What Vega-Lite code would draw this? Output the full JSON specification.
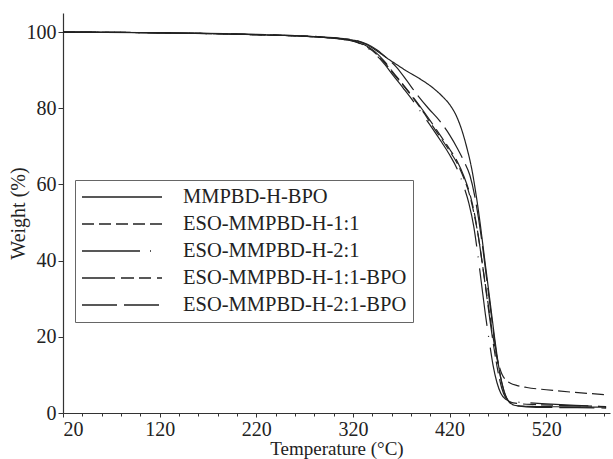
{
  "$schema": "https://vega.github.io/schema/vega-lite/v6.json",
  "width": 547,
  "height": 400,
  "autosize": {"type": "none"},
  "padding": {"left": 63, "top": 13, "right": 3, "bottom": 46},
  "background": "white",
  "config": {
    "view": {"stroke": null},
    "font": "Liberation Serif",
    "axis": {
      "labelFont": "Liberation Serif", "titleFont": "Liberation Serif",
      "labelFontSize": 20, "titleFontSize": 20, "titleFontWeight": "normal",
      "labelColor": "#222", "titleColor": "#222", "domainColor": "#333", "tickColor": "#333",
      "domainWidth": 1.2, "tickWidth": 1, "grid": false, "labelOverlap": false, "labelBound": false
    },
    "legend": {"labelFont": "Liberation Serif", "labelFontSize": 20.5, "labelColor": "#222", "labelLimit": 0}
  },
  "datasets": {
    "tga": [
      {"s":"MMPBD-H-BPO","t":20,"w":100},{"s":"MMPBD-H-BPO","t":60,"w":99.95},{"s":"MMPBD-H-BPO","t":120,"w":99.8},{"s":"MMPBD-H-BPO","t":170,"w":99.6},{"s":"MMPBD-H-BPO","t":220,"w":99.3},{"s":"MMPBD-H-BPO","t":260,"w":99},{"s":"MMPBD-H-BPO","t":290,"w":98.6},{"s":"MMPBD-H-BPO","t":310,"w":98.2},{"s":"MMPBD-H-BPO","t":325,"w":97.6},{"s":"MMPBD-H-BPO","t":335,"w":96.6},{"s":"MMPBD-H-BPO","t":345,"w":95},{"s":"MMPBD-H-BPO","t":355,"w":93.2},{"s":"MMPBD-H-BPO","t":365,"w":91.5},{"s":"MMPBD-H-BPO","t":376,"w":89.7},{"s":"MMPBD-H-BPO","t":390,"w":87.6},{"s":"MMPBD-H-BPO","t":403,"w":85.3},{"s":"MMPBD-H-BPO","t":413,"w":83},{"s":"MMPBD-H-BPO","t":420,"w":81},{"s":"MMPBD-H-BPO","t":427,"w":78},{"s":"MMPBD-H-BPO","t":433,"w":74},{"s":"MMPBD-H-BPO","t":438,"w":69.5},{"s":"MMPBD-H-BPO","t":443,"w":64},{"s":"MMPBD-H-BPO","t":447,"w":58},{"s":"MMPBD-H-BPO","t":451,"w":51},{"s":"MMPBD-H-BPO","t":455,"w":43},{"s":"MMPBD-H-BPO","t":459,"w":35},{"s":"MMPBD-H-BPO","t":463,"w":27},{"s":"MMPBD-H-BPO","t":467,"w":19},{"s":"MMPBD-H-BPO","t":471,"w":12},{"s":"MMPBD-H-BPO","t":475,"w":7},{"s":"MMPBD-H-BPO","t":479,"w":4},{"s":"MMPBD-H-BPO","t":484,"w":2.4},{"s":"MMPBD-H-BPO","t":490,"w":1.9},{"s":"MMPBD-H-BPO","t":510,"w":1.7},{"s":"MMPBD-H-BPO","t":550,"w":1.6},{"s":"MMPBD-H-BPO","t":582,"w":1.5},

      {"s":"ESO-MMPBD-H-1:1","t":20,"w":100},{"s":"ESO-MMPBD-H-1:1","t":120,"w":99.8},{"s":"ESO-MMPBD-H-1:1","t":220,"w":99.3},{"s":"ESO-MMPBD-H-1:1","t":260,"w":99},{"s":"ESO-MMPBD-H-1:1","t":290,"w":98.6},{"s":"ESO-MMPBD-H-1:1","t":310,"w":98.1},{"s":"ESO-MMPBD-H-1:1","t":325,"w":97.3},{"s":"ESO-MMPBD-H-1:1","t":335,"w":96},{"s":"ESO-MMPBD-H-1:1","t":343,"w":94.5},{"s":"ESO-MMPBD-H-1:1","t":352,"w":92.2},{"s":"ESO-MMPBD-H-1:1","t":362,"w":89},{"s":"ESO-MMPBD-H-1:1","t":372,"w":86},{"s":"ESO-MMPBD-H-1:1","t":382,"w":82.8},{"s":"ESO-MMPBD-H-1:1","t":392,"w":79.3},{"s":"ESO-MMPBD-H-1:1","t":402,"w":75.5},{"s":"ESO-MMPBD-H-1:1","t":412,"w":71.8},{"s":"ESO-MMPBD-H-1:1","t":420,"w":68.8},{"s":"ESO-MMPBD-H-1:1","t":428,"w":65.5},{"s":"ESO-MMPBD-H-1:1","t":435,"w":61.5},{"s":"ESO-MMPBD-H-1:1","t":441,"w":57},{"s":"ESO-MMPBD-H-1:1","t":446,"w":51.5},{"s":"ESO-MMPBD-H-1:1","t":450,"w":46},{"s":"ESO-MMPBD-H-1:1","t":454,"w":39},{"s":"ESO-MMPBD-H-1:1","t":458,"w":32},{"s":"ESO-MMPBD-H-1:1","t":462,"w":25},{"s":"ESO-MMPBD-H-1:1","t":466,"w":18.5},{"s":"ESO-MMPBD-H-1:1","t":470,"w":13.5},{"s":"ESO-MMPBD-H-1:1","t":474,"w":10.3},{"s":"ESO-MMPBD-H-1:1","t":478,"w":8.7},{"s":"ESO-MMPBD-H-1:1","t":483,"w":7.8},{"s":"ESO-MMPBD-H-1:1","t":490,"w":7.2},{"s":"ESO-MMPBD-H-1:1","t":500,"w":6.7},{"s":"ESO-MMPBD-H-1:1","t":520,"w":6.1},{"s":"ESO-MMPBD-H-1:1","t":550,"w":5.4},{"s":"ESO-MMPBD-H-1:1","t":582,"w":4.8},

      {"s":"ESO-MMPBD-H-2:1","t":20,"w":100},{"s":"ESO-MMPBD-H-2:1","t":120,"w":99.8},{"s":"ESO-MMPBD-H-2:1","t":220,"w":99.3},{"s":"ESO-MMPBD-H-2:1","t":260,"w":99},{"s":"ESO-MMPBD-H-2:1","t":290,"w":98.6},{"s":"ESO-MMPBD-H-2:1","t":310,"w":98.1},{"s":"ESO-MMPBD-H-2:1","t":325,"w":97.2},{"s":"ESO-MMPBD-H-2:1","t":335,"w":95.8},{"s":"ESO-MMPBD-H-2:1","t":343,"w":94.2},{"s":"ESO-MMPBD-H-2:1","t":352,"w":91.8},{"s":"ESO-MMPBD-H-2:1","t":362,"w":88.5},{"s":"ESO-MMPBD-H-2:1","t":372,"w":85.3},{"s":"ESO-MMPBD-H-2:1","t":382,"w":82},{"s":"ESO-MMPBD-H-2:1","t":392,"w":78.4},{"s":"ESO-MMPBD-H-2:1","t":402,"w":74.8},{"s":"ESO-MMPBD-H-2:1","t":412,"w":71},{"s":"ESO-MMPBD-H-2:1","t":420,"w":67.8},{"s":"ESO-MMPBD-H-2:1","t":428,"w":64},{"s":"ESO-MMPBD-H-2:1","t":434,"w":60},{"s":"ESO-MMPBD-H-2:1","t":440,"w":55},{"s":"ESO-MMPBD-H-2:1","t":445,"w":49},{"s":"ESO-MMPBD-H-2:1","t":449,"w":42},{"s":"ESO-MMPBD-H-2:1","t":453,"w":34},{"s":"ESO-MMPBD-H-2:1","t":457,"w":26},{"s":"ESO-MMPBD-H-2:1","t":461,"w":19},{"s":"ESO-MMPBD-H-2:1","t":465,"w":12.5},{"s":"ESO-MMPBD-H-2:1","t":469,"w":8},{"s":"ESO-MMPBD-H-2:1","t":473,"w":5.2},{"s":"ESO-MMPBD-H-2:1","t":478,"w":3.6},{"s":"ESO-MMPBD-H-2:1","t":485,"w":3},{"s":"ESO-MMPBD-H-2:1","t":500,"w":2.7},{"s":"ESO-MMPBD-H-2:1","t":520,"w":2.4},{"s":"ESO-MMPBD-H-2:1","t":550,"w":2},{"s":"ESO-MMPBD-H-2:1","t":582,"w":1.7},

      {"s":"ESO-MMPBD-H-1:1-BPO","t":20,"w":100},{"s":"ESO-MMPBD-H-1:1-BPO","t":120,"w":99.8},{"s":"ESO-MMPBD-H-1:1-BPO","t":220,"w":99.3},{"s":"ESO-MMPBD-H-1:1-BPO","t":260,"w":99},{"s":"ESO-MMPBD-H-1:1-BPO","t":290,"w":98.6},{"s":"ESO-MMPBD-H-1:1-BPO","t":310,"w":98.1},{"s":"ESO-MMPBD-H-1:1-BPO","t":325,"w":97.4},{"s":"ESO-MMPBD-H-1:1-BPO","t":335,"w":96.2},{"s":"ESO-MMPBD-H-1:1-BPO","t":343,"w":94.8},{"s":"ESO-MMPBD-H-1:1-BPO","t":352,"w":92.5},{"s":"ESO-MMPBD-H-1:1-BPO","t":362,"w":89.3},{"s":"ESO-MMPBD-H-1:1-BPO","t":372,"w":86.2},{"s":"ESO-MMPBD-H-1:1-BPO","t":382,"w":83},{"s":"ESO-MMPBD-H-1:1-BPO","t":392,"w":79.6},{"s":"ESO-MMPBD-H-1:1-BPO","t":402,"w":76},{"s":"ESO-MMPBD-H-1:1-BPO","t":412,"w":72.3},{"s":"ESO-MMPBD-H-1:1-BPO","t":420,"w":69.3},{"s":"ESO-MMPBD-H-1:1-BPO","t":428,"w":66},{"s":"ESO-MMPBD-H-1:1-BPO","t":435,"w":62},{"s":"ESO-MMPBD-H-1:1-BPO","t":441,"w":57.5},{"s":"ESO-MMPBD-H-1:1-BPO","t":446,"w":52},{"s":"ESO-MMPBD-H-1:1-BPO","t":450,"w":46},{"s":"ESO-MMPBD-H-1:1-BPO","t":454,"w":39},{"s":"ESO-MMPBD-H-1:1-BPO","t":458,"w":31.5},{"s":"ESO-MMPBD-H-1:1-BPO","t":462,"w":24},{"s":"ESO-MMPBD-H-1:1-BPO","t":466,"w":17},{"s":"ESO-MMPBD-H-1:1-BPO","t":470,"w":11},{"s":"ESO-MMPBD-H-1:1-BPO","t":474,"w":6.5},{"s":"ESO-MMPBD-H-1:1-BPO","t":478,"w":4},{"s":"ESO-MMPBD-H-1:1-BPO","t":483,"w":2.9},{"s":"ESO-MMPBD-H-1:1-BPO","t":490,"w":2.5},{"s":"ESO-MMPBD-H-1:1-BPO","t":510,"w":2.2},{"s":"ESO-MMPBD-H-1:1-BPO","t":550,"w":1.9},{"s":"ESO-MMPBD-H-1:1-BPO","t":582,"w":1.7},

      {"s":"ESO-MMPBD-H-2:1-BPO","t":20,"w":100},{"s":"ESO-MMPBD-H-2:1-BPO","t":120,"w":99.8},{"s":"ESO-MMPBD-H-2:1-BPO","t":220,"w":99.4},{"s":"ESO-MMPBD-H-2:1-BPO","t":260,"w":99.1},{"s":"ESO-MMPBD-H-2:1-BPO","t":290,"w":98.7},{"s":"ESO-MMPBD-H-2:1-BPO","t":310,"w":98.3},{"s":"ESO-MMPBD-H-2:1-BPO","t":325,"w":97.7},{"s":"ESO-MMPBD-H-2:1-BPO","t":335,"w":96.8},{"s":"ESO-MMPBD-H-2:1-BPO","t":345,"w":95.3},{"s":"ESO-MMPBD-H-2:1-BPO","t":355,"w":93.2},{"s":"ESO-MMPBD-H-2:1-BPO","t":365,"w":90.8},{"s":"ESO-MMPBD-H-2:1-BPO","t":375,"w":87.5},{"s":"ESO-MMPBD-H-2:1-BPO","t":386,"w":83.7},{"s":"ESO-MMPBD-H-2:1-BPO","t":398,"w":80},{"s":"ESO-MMPBD-H-2:1-BPO","t":410,"w":76.6},{"s":"ESO-MMPBD-H-2:1-BPO","t":420,"w":73},{"s":"ESO-MMPBD-H-2:1-BPO","t":428,"w":69.5},{"s":"ESO-MMPBD-H-2:1-BPO","t":435,"w":66},{"s":"ESO-MMPBD-H-2:1-BPO","t":441,"w":62.4},{"s":"ESO-MMPBD-H-2:1-BPO","t":446,"w":57},{"s":"ESO-MMPBD-H-2:1-BPO","t":450,"w":51},{"s":"ESO-MMPBD-H-2:1-BPO","t":454,"w":44},{"s":"ESO-MMPBD-H-2:1-BPO","t":458,"w":36},{"s":"ESO-MMPBD-H-2:1-BPO","t":462,"w":28},{"s":"ESO-MMPBD-H-2:1-BPO","t":466,"w":20},{"s":"ESO-MMPBD-H-2:1-BPO","t":470,"w":13},{"s":"ESO-MMPBD-H-2:1-BPO","t":474,"w":8},{"s":"ESO-MMPBD-H-2:1-BPO","t":478,"w":4.5},{"s":"ESO-MMPBD-H-2:1-BPO","t":483,"w":2.6},{"s":"ESO-MMPBD-H-2:1-BPO","t":490,"w":1.9},{"s":"ESO-MMPBD-H-2:1-BPO","t":510,"w":1.5},{"s":"ESO-MMPBD-H-2:1-BPO","t":550,"w":1.4},{"s":"ESO-MMPBD-H-2:1-BPO","t":582,"w":1.3}
    ]
  },
  "layer": [
    {
      "data": {"name": "tga"},
      "mark": {"type": "line", "color": "#222", "strokeWidth": 1.2, "interpolate": "monotone"},
      "encoding": {
        "x": {
          "field": "t", "type": "quantitative",
          "scale": {"domain": [20, 586], "nice": false, "zero": false},
          "axis": {
            "title": "Temperature (°C)",
            "titleFontSize": 19,
            "values": [20,40,60,80,100,120,140,160,180,200,220,240,260,280,300,320,340,360,380,400,420,440,460,480,500,520,540,560,580],
            "labelExpr": "(datum.value - 20) % 100 === 0 ? datum.label : ''",
            "tickSize": {"expr": "(datum.value - 20) % 100 === 0 ? 4 : 3"},
            "labelPadding": 2,
            "titlePadding": 0
          }
        },
        "y": {
          "field": "w", "type": "quantitative",
          "scale": {"domain": [0, 105], "nice": false},
          "axis": {
            "title": "Weight (%)",
            "values": [0,5,10,15,20,25,30,35,40,45,50,55,60,65,70,75,80,85,90,95,100],
            "labelExpr": "datum.value % 20 === 0 ? datum.label : ''",
            "tickSize": {"expr": "datum.value % 20 === 0 ? 5 : 3"},
            "labelPadding": 2,
            "titlePadding": -2
          }
        },
        "detail": {"field": "s"},
        "strokeDash": {
          "field": "s", "type": "nominal",
          "scale": {
            "domain": ["MMPBD-H-BPO", "ESO-MMPBD-H-1:1", "ESO-MMPBD-H-2:1", "ESO-MMPBD-H-1:1-BPO", "ESO-MMPBD-H-2:1-BPO"],
            "range": [[1, 0], [12, 5], [58, 10, 1, 11], [33, 6, 13, 5, 12, 6], [35, 7]]
          },
          "legend": {
            "title": null,
            "orient": "none",
            "legendX": 12,
            "legendY": 167,
            "symbolType": "M-1,0H7",
            "symbolSize": 400,
            "symbolStrokeWidth": 1.5,
            "symbolStrokeColor": "#222",
            "labelOffset": 80,
            "rowPadding": 5,
            "padding": 6,
            "strokeColor": "#666",
            "fillColor": "white"
          }
        }
      }
    },
    {
      "mark": {"type": "rule", "color": "#333", "strokeWidth": 1.2},
      "encoding": {"y": {"datum": 105}}
    }
  ]
}
